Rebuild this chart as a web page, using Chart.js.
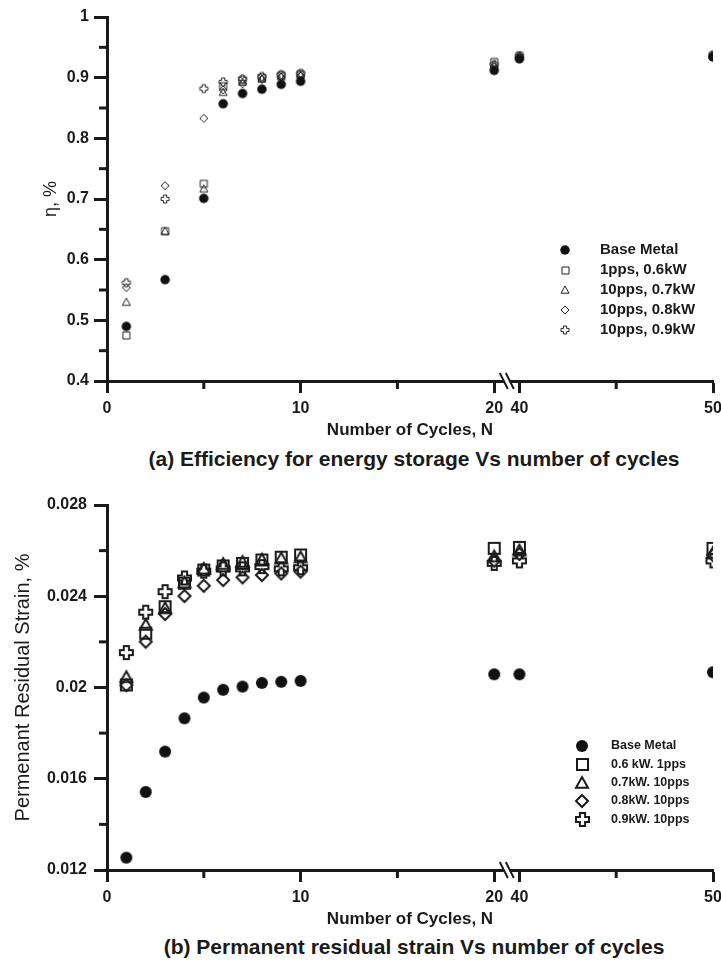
<!DOCTYPE html>
<html>
<head>
<meta charset="utf-8">
<script src="https://cdn.jsdelivr.net/npm/chart.js@4/dist/chart.umd.min.js"></script>
<style>
  html, body { margin: 0; padding: 0; background: #fff; overflow: hidden; width: 721px; height: 961px; }
  .box { position: absolute; left: 0; width: 729px; }
  .cap { position: absolute; left: 0; width: 828px; text-align: center; white-space: nowrap;
         font-family: "Liberation Sans", Arial, sans-serif; font-weight: bold; font-size: 21px; color: #1a1a1a; }
</style>
</head>
<body>
<div class="box" style="top:0;height:445px"><canvas id="effChart"></canvas></div>
<div class="cap" style="top:447px">(a) Efficiency for energy storage Vs number of cycles</div>
<div class="box" style="top:465px;height:470px"><canvas id="strainChart"></canvas></div>
<div class="cap" style="top:935px">(b) Permanent residual strain Vs number of cycles</div>

<script>
// broken x axis: 0..20 linear, then a short gap, then 40..50
const xBreakFrom = 20
const xBreakTo = 40
const xBreakGap = 1.3
const pos = n => n <= xBreakFrom ? n : n - xBreakTo + xBreakFrom + xBreakGap
const unpos = p => p <= xBreakFrom ? p : Math.round(p - xBreakFrom - xBreakGap + xBreakTo)

const xMajor = [0, 10, 20, 40, 50]
const xMinor = [5, 15, 45]

// (a) efficiency
const effCycles = [1, 3, 5, 6, 7, 8, 9, 10, 20, 40, 50]
const effBase = [0.490, 0.567, 0.701, 0.857, 0.874, 0.881, 0.889, 0.894, 0.912, 0.931, 0.934]
const eff06 = [0.475, 0.647, 0.725, 0.886, 0.896, 0.900, 0.904, 0.906, 0.926, 0.936, 0.937]
const eff07 = [0.530, 0.647, 0.717, 0.876, 0.893, 0.898, 0.902, 0.905, 0.921, 0.935, 0.936]
const eff08 = [0.554, 0.722, 0.833, 0.880, 0.890, 0.897, 0.901, 0.903, 0.918, 0.934, 0.935]
const eff09 = [0.562, 0.700, 0.882, 0.893, 0.898, 0.902, 0.905, 0.907, 0.922, 0.936, 0.937]
const effLabels = ['Base Metal', '1pps, 0.6kW', '10pps, 0.7kW', '10pps, 0.8kW', '10pps, 0.9kW']
const effTicks = [0.4, 0.5, 0.6, 0.7, 0.8, 0.9, 1]
const effMinor = [0.45, 0.55, 0.65, 0.75, 0.85, 0.95]

// (b) permanent residual strain
const strainCycles = [1, 2, 3, 4, 5, 6, 7, 8, 9, 10, 20, 40, 50]
const strainBase = [0.01254, 0.01542, 0.01719, 0.01865, 0.01956, 0.0199, 0.02004, 0.0202, 0.02025, 0.02029, 0.02058, 0.02058, 0.02067]
const strain06 = [0.02011, 0.02238, 0.02354, 0.02457, 0.02515, 0.02533, 0.02544, 0.02559, 0.02571, 0.02581, 0.0261, 0.02614, 0.0261]
const strain07 = [0.02045, 0.02274, 0.02347, 0.0246, 0.0252, 0.02541, 0.0255, 0.0256, 0.02565, 0.0257, 0.02574, 0.026, 0.0259]
const strain08 = [0.0201, 0.02201, 0.02322, 0.02401, 0.02446, 0.02471, 0.02483, 0.02493, 0.025, 0.02508, 0.02556, 0.02585, 0.0258]
const strain09 = [0.02153, 0.0233, 0.0242, 0.0248, 0.0251, 0.0252, 0.0252, 0.0253, 0.0252, 0.02525, 0.02544, 0.02555, 0.02555]
const strainLabels = ['Base Metal', '0.6 kW. 1pps', '0.7kW. 10pps', '0.8kW. 10pps', '0.9kW. 10pps']
const strainTicks = [0.012, 0.016, 0.02, 0.024, 0.028]
const strainMinor = [0.014, 0.018, 0.022, 0.026]

const FONT = '"Liberation Sans", Arial, sans-serif'
const INK = '#1a1a1a'

// little canvases used as point styles
function marker(shape, size, lw, color) {
  const s = Math.ceil(size + lw * 2 + 2)
  const c = document.createElement('canvas')
  c.width = c.height = s
  const g = c.getContext('2d')
  const m = s / 2, h = size / 2
  g.strokeStyle = color
  g.fillStyle = color
  g.lineWidth = lw
  g.beginPath()
  if (shape === 'circle') {
    g.arc(m, m, h, 0, Math.PI * 2)
    g.fill()
    return c
  }
  if (shape === 'square') g.rect(m - h, m - h, size, size)
  if (shape === 'triangle') {
    g.moveTo(m, m - h)
    g.lineTo(m + h, m + h * 0.8)
    g.lineTo(m - h, m + h * 0.8)
    g.closePath()
  }
  if (shape === 'diamond') {
    g.moveTo(m, m - h); g.lineTo(m + h, m); g.lineTo(m, m + h); g.lineTo(m - h, m); g.closePath()
  }
  if (shape === 'plus') {
    const a = h * 0.4
    const pts = [[-a, -h], [a, -h], [a, -a], [h, -a], [h, a], [a, a], [a, h], [-a, h], [-a, a], [-h, a], [-h, -a], [-a, -a]]
    pts.forEach((p, i) => i ? g.lineTo(m + p[0], m + p[1]) : g.moveTo(m + p[0], m + p[1]))
    g.closePath()
  }
  g.stroke()
  return c
}

const effMarks = [marker('circle', 9.5, 0, '#111'), marker('square', 7, 1, '#222'), marker('triangle', 8, 1, '#222'),
  marker('diamond', 8, 1, '#222'), marker('plus', 8, 1, '#222')]
const strainMarks = [marker('circle', 12, 0, '#111'), marker('square', 11, 2, '#1a1a1a'), marker('triangle', 12, 2, '#1a1a1a'),
  marker('diamond', 12, 2, '#1a1a1a'), marker('plus', 13, 2, '#1a1a1a')]

// minor ticks, axis break and the legend box
const extras = {
  id: 'extras',
  afterDraw(chart, args, opts) {
    const ctx = chart.ctx
    const xs = chart.scales.x, ys = chart.scales.y
    const ax = chart.chartArea
    ctx.save()
    ctx.strokeStyle = INK
    ctx.lineWidth = 3
    opts.minorY.forEach(v => {
      const y = ys.getPixelForValue(v)
      ctx.beginPath(); ctx.moveTo(ax.left - 8, y); ctx.lineTo(ax.left, y); ctx.stroke()
    })
    xMinor.forEach(v => {
      const x = xs.getPixelForValue(pos(v))
      ctx.beginPath(); ctx.moveTo(x, ax.bottom); ctx.lineTo(x, ax.bottom + 8); ctx.stroke()
    })
    // break marks
    const mid = (xs.getPixelForValue(pos(xBreakFrom)) + xs.getPixelForValue(pos(xBreakTo))) / 2
    const yb = ax.bottom
    ctx.fillStyle = '#fff'
    ctx.fillRect(mid - 3, yb - 3, 6, 6)
    ctx.lineWidth = 2
    ;[-3, 3].forEach(dx => {
      ctx.beginPath(); ctx.moveTo(mid + dx - 4, yb - 8); ctx.lineTo(mid + dx + 4, yb + 8); ctx.stroke()
    })
    // legend
    const lg = opts.legend
    ctx.font = lg.font
    ctx.fillStyle = INK
    ctx.textBaseline = 'middle'
    chart.data.datasets.forEach((ds, i) => {
      const y = lg.y + i * lg.gap
      const img = ds.pointStyle
      ctx.drawImage(img, Math.round(lg.x - img.width / 2), Math.round(y - img.height / 2))
      ctx.fillText(ds.label, lg.textX, y)
    })
    ctx.restore()
  }
}

function makeChart(id, cycles, series, labels, marks, yTicks, yMinor, cfg) {
  const datasets = series.map((vals, i) => ({
    label: labels[i],
    data: vals.map((v, k) => ({ x: pos(cycles[k]), y: v })),
    pointStyle: marks[i],
    pointRadius: 5,
    showLine: false
  }))
  return new Chart(document.getElementById(id), {
    type: 'scatter',
    data: { datasets: datasets },
    plugins: [extras],
    options: {
      responsive: true,
      maintainAspectRatio: false,
      animation: false,
      layout: { padding: { top: cfg.top, right: 16, bottom: cfg.bottom, left: 0 } },
      plugins: {
        legend: { display: false },
        tooltip: { enabled: false },
        extras: { minorY: yMinor, legend: cfg.legend }
      },
      scales: {
        x: {
          type: 'linear',
          min: 0,
          max: pos(50),
          afterBuildTicks: s => { s.ticks = xMajor.map(v => ({ value: pos(v) })) },
          afterFit: s => { s.height = 60 },
          ticks: {
            autoSkip: false, maxRotation: 0, padding: 6, color: INK,
            font: { family: FONT, size: 16, weight: 'bold' },
            callback: v => String(unpos(v))
          },
          grid: { drawOnChartArea: false, drawTicks: true, tickLength: 12, tickWidth: 3, tickColor: INK },
          border: { display: true, width: 3, color: INK },
          title: {
            display: true, text: 'Number of Cycles, N', color: INK, padding: 0,
            font: { family: FONT, size: 17, weight: 'bold' }
          }
        },
        y: {
          type: 'linear',
          min: yTicks[0],
          max: yTicks[yTicks.length - 1],
          afterBuildTicks: s => { s.ticks = yTicks.map(v => ({ value: v })) },
          afterFit: s => { s.width = 107 },
          ticks: {
            padding: cfg.yPad, color: INK,
            font: { family: FONT, size: 16, weight: 'bold' },
            callback: v => String(+v.toFixed(3))
          },
          grid: { drawOnChartArea: false, drawTicks: true, tickLength: 13, tickWidth: 3, tickColor: INK },
          border: { display: true, width: 3, color: INK },
          title: {
            display: true, text: cfg.yTitle, color: INK,
            padding: { top: cfg.yTitlePad, bottom: 0 },
            font: { family: FONT, size: cfg.yTitleSize, weight: 'normal' }
          }
        }
      }
    }
  })
}

makeChart('effChart', effCycles, [effBase, eff06, eff07, eff08, eff09], effLabels, effMarks, effTicks, effMinor, {
  top: 17, bottom: 4, yPad: 5, yTitle: 'η, %', yTitleSize: 18, yTitlePad: 40,
  legend: { x: 565, y: 250, gap: 20, textX: 600, font: 'bold 15px ' + FONT }
})

makeChart('strainChart', strainCycles, [strainBase, strain06, strain07, strain08, strain09], strainLabels, strainMarks, strainTicks, strainMinor, {
  top: 40, bottom: 5, yPad: 7, yTitle: 'Permenant Residual Strain, %', yTitleSize: 20, yTitlePad: 11,
  legend: { x: 582, y: 281, gap: 18.3, textX: 611, font: 'bold 12.5px ' + FONT }
})
</script>
</body>
</html>
